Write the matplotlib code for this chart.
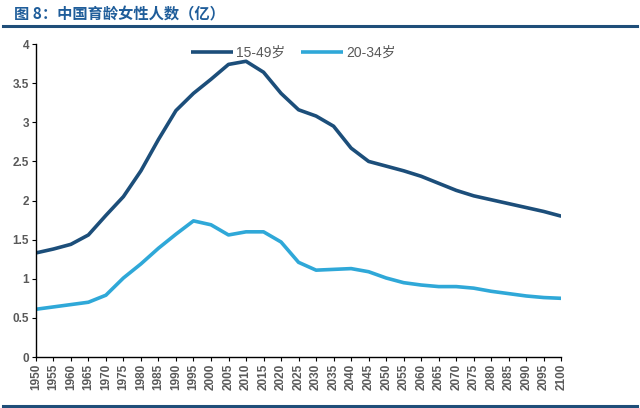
import matplotlib
matplotlib.use("Agg")
import matplotlib.pyplot as plt
from matplotlib.lines import Line2D

years = list(range(1950, 2101, 5))
s1549 = [1.33, 1.38, 1.44, 1.56, 1.81, 2.05, 2.38, 2.78, 3.15, 3.37, 3.55, 3.74, 3.78, 3.64, 3.37, 3.16,
         3.08, 2.95, 2.67, 2.50, 2.44, 2.38, 2.31, 2.22, 2.13, 2.06, 2.01, 1.96, 1.91, 1.86, 1.80]
s2034 = [0.61, 0.64, 0.67, 0.70, 0.79, 1.01, 1.19, 1.39, 1.57, 1.74, 1.69, 1.56, 1.60, 1.60, 1.47, 1.21,
         1.11, 1.12, 1.13, 1.09, 1.01, 0.95, 0.92, 0.90, 0.90, 0.88, 0.84, 0.81, 0.78, 0.76, 0.75]
labels = ["15-49岁", "20-34岁"]
title = "图 8：中国育龄女性人数（亿）"

fam = ['Liberation Sans', 'Noto Sans CJK SC', 'DejaVu Sans']
plt.rcParams['font.family'] = fam

fig = plt.figure(figsize=(6.4, 4.08), dpi=100)
ax = fig.add_axes([0.056, 0.125, 0.821, 0.767])

navy = '#1C4E7A'
light = '#2FA8D8'
ax.plot(years, s1549, color=navy, lw=2.6, label=labels[0], solid_capstyle='butt')
ax.plot(years, s2034, color=light, lw=2.6, label=labels[1], solid_capstyle='butt')

ax.set_xlim(1950, 2100)
ax.set_ylim(0, 4)
ax.set_xticks(years)
ax.set_xticklabels([str(y) for y in years], rotation=90, fontsize=8.5, color='#595959', fontweight='bold')
ax.set_yticks([0, 0.5, 1, 1.5, 2, 2.5, 3, 3.5, 4])
ax.set_yticklabels(['0', '0.5', '1', '1.5', '2', '2.5', '3', '3.5', '4'], fontsize=8.5, color='#595959', fontweight='bold')
for s in ['top', 'right']:
    ax.spines[s].set_visible(False)
for s in ['left', 'bottom']:
    ax.spines[s].set_color('black')
    ax.spines[s].set_linewidth(1.0)
ax.tick_params(axis='both', direction='out', length=3, width=0.8, pad=2)

leg = ax.legend(loc='upper center', bbox_to_anchor=(0.49, 1.035), ncol=2, frameon=False,
                fontsize=10, handlelength=3.0, columnspacing=1.2, handletextpad=0.2)
for t in leg.get_texts():
    t.set_color('#595959')

fig.text(0.022, 0.965, title, fontsize=11, color='#1F5D9A', fontweight='bold',
         family=['Noto Sans CJK SC', 'DejaVu Sans'], va='center', ha='left')
fig.add_artist(Line2D([0.005, 0.995], [0.937, 0.937], color='#1F4E79', lw=2.2, transform=fig.transFigure))
fig.add_artist(Line2D([0.005, 0.995], [0.006, 0.006], color='#1F4E79', lw=2.2, transform=fig.transFigure))

fig.savefig('out.png', dpi=100)
